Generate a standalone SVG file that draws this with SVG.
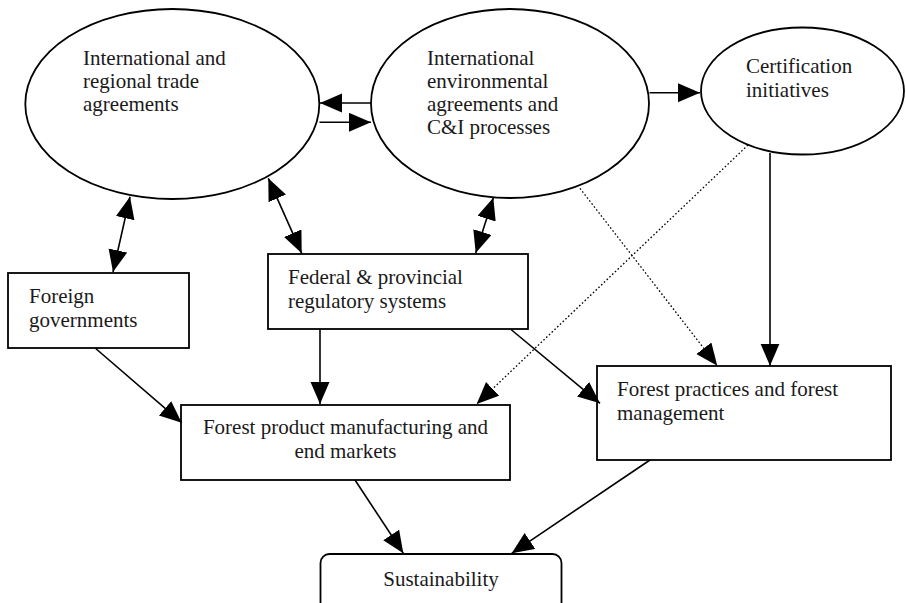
<svg xmlns="http://www.w3.org/2000/svg" width="906" height="603" viewBox="0 0 906 603">
<style>
.shape{fill:#ffffff;stroke:#000;stroke-width:1.8}
.t{font-family:"Liberation Serif","Times New Roman",serif;font-size:21px;fill:#1a1a1a}
.c{text-anchor:middle}
.ln{fill:none;stroke:#000;stroke-width:1.6}
.dot{fill:none;stroke:#000;stroke-width:1.3;stroke-dasharray:1.6 2.2}
.arr{marker-end:url(#ah)}
.both{marker-start:url(#ah);marker-end:url(#ah)}
</style>
<defs>
<marker id="ah" markerUnits="userSpaceOnUse" markerWidth="23" markerHeight="20" refX="22" refY="9.5" orient="auto-start-reverse" viewBox="0 0 23 20">
<path d="M0,0 L22,9.5 L0,19 z" fill="#000"/>
</marker>
</defs>
<rect width="906" height="603" fill="#ffffff"/>

<g id="n-trade">
<ellipse class="shape" cx="172.3" cy="104" rx="147" ry="95"/>
<text class="t" x="83" y="65">International and</text>
<text class="t" x="83" y="88">regional trade</text>
<text class="t" x="83" y="111">agreements</text>
</g>
<g id="n-env">
<ellipse class="shape" cx="510" cy="103.5" rx="139" ry="94.5"/>
<text class="t" x="427" y="65">International</text>
<text class="t" x="427" y="88">environmental</text>
<text class="t" x="427" y="111">agreements and</text>
<text class="t" x="427" y="134">C&amp;I processes</text>
</g>
<g id="n-cert">
<ellipse class="shape" cx="802.5" cy="91" rx="101.5" ry="63.5"/>
<text class="t" x="746" y="73">Certification</text>
<text class="t" x="746" y="97">initiatives</text>
</g>
<g id="n-foreign">
<rect class="shape" x="8" y="273" width="181" height="75"/>
<text class="t" x="29" y="303">Foreign</text>
<text class="t" x="29" y="326.5">governments</text>
</g>
<g id="n-federal">
<rect class="shape" x="268" y="254" width="260" height="75"/>
<text class="t" x="288" y="284">Federal &amp; provincial</text>
<text class="t" x="288" y="308">regulatory systems</text>
</g>
<g id="n-product">
<rect class="shape" x="181" y="405" width="329" height="75"/>
<text class="t c" x="345.5" y="434">Forest product manufacturing and</text>
<text class="t c" x="345.5" y="458">end markets</text>
</g>
<g id="n-practices">
<rect class="shape" x="597" y="366" width="294" height="94"/>
<text class="t" x="617" y="396">Forest practices and forest</text>
<text class="t" x="617" y="420">management</text>
</g>
<g id="n-sust">
<rect class="shape" x="320.5" y="554" width="241" height="60" rx="9" ry="9"/>
<text class="t c" x="441" y="586">Sustainability</text>
</g>

<g id="connectors">
<line class="ln arr" x1="371" y1="103" x2="320" y2="103"/>
<line class="ln arr" x1="319.5" y1="122.3" x2="371" y2="122.3"/>
<line class="ln arr" x1="649.5" y1="92.7" x2="700" y2="92.7"/>
<line class="ln both" x1="130" y1="196.7" x2="113" y2="272"/>
<line class="ln both" x1="268.3" y1="178.3" x2="301.7" y2="253.3"/>
<line class="ln both" x1="493.3" y1="197.7" x2="475.7" y2="253"/>
<line class="ln arr" x1="770" y1="153" x2="770" y2="365.7"/>
<line class="dot arr" x1="580" y1="188.3" x2="717.3" y2="365.7"/>
<line class="dot arr" x1="748" y1="145" x2="476.7" y2="404"/>
<line class="ln arr" x1="511" y1="329.5" x2="600" y2="403.3"/>
<line class="ln arr" x1="320" y1="329.5" x2="320" y2="404"/>
<line class="ln arr" x1="95.7" y1="348.5" x2="181.7" y2="422.7"/>
<line class="ln arr" x1="355" y1="480" x2="403.3" y2="553.3"/>
<line class="ln arr" x1="650" y1="460" x2="511.7" y2="553.3"/>
</g>
</svg>
